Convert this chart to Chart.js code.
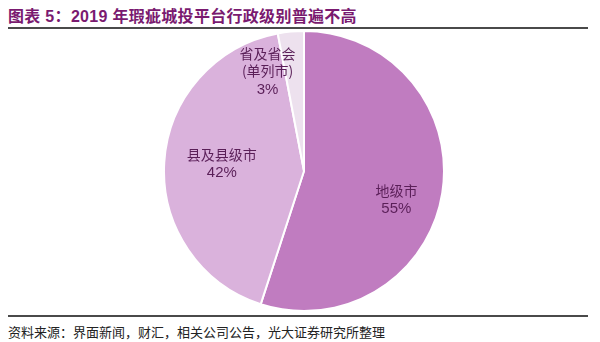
<!DOCTYPE html>
<html>
<head>
<meta charset="utf-8">
<script src="https://cdn.jsdelivr.net/npm/chart.js@4"></script>
<style>
  html, body { margin: 0; padding: 0; background: #fff; }
  body { width: 600px; height: 342px; position: relative; overflow: hidden; }
  #title { position: absolute; left: 8px; top: 3px; font: bold 16px "Liberation Sans", "Noto Sans CJK SC", sans-serif; color: #7a1a70; white-space: nowrap; letter-spacing: 0.3px; }
  #title .cjk { font-family: "Noto Sans CJK SC", sans-serif; }
  .rule { position: absolute; left: 8px; width: 580px; height: 2px; background: #4a4a4a; }
  #source { position: absolute; left: 8px; top: 322px; font: 13px "Noto Sans CJK SC", sans-serif; color: #222; white-space: nowrap; }
  #wrap { position: absolute; left: 163px; top: 30px; width: 282px; height: 282px; }
</style>
</head>
<body>
<div id="title"><span class="cjk">图表</span> 5<span class="cjk">：</span>2019 <span class="cjk">年瑕疵城投平台行政级别普遍不高</span></div>
<div class="rule" style="top:27px"></div>
<div id="wrap"><canvas id="c"></canvas></div>
<div class="rule" style="top:315px"></div>
<div id="source">资料来源：界面新闻，财汇，相关公司公告，光大证券研究所整理</div>
<script>
// admin level of flawed LGFV platforms, 2019 (%)
const labels = ['地级市', '县及县级市', '省及省会\n(单列市)'];
const shares = [55, 42, 3];
const colours = ['#c07cc0', '#dab2dc', '#ede1ee'];

// label placement: [fraction of radius, angle shift in degrees]
const labelPos = [[0.69, 8], [0.59, 2], [0.76, -14.6]];

const sliceLabels = {
  id: 'sliceLabels',
  afterDatasetsDraw(chart) {
    const { ctx } = chart;
    const meta = chart.getDatasetMeta(0);
    meta.data.forEach((arc, i) => {
      const p = arc.getProps(['x', 'y', 'startAngle', 'endAngle', 'outerRadius'], true);
      const a = (p.startAngle + p.endAngle) / 2 + labelPos[i][1] * Math.PI / 180;
      const r = p.outerRadius * labelPos[i][0];
      const x = p.x + Math.cos(a) * r;
      const y = p.y + Math.sin(a) * r;
      const lines = labels[i].split('\n');
      ctx.save();
      ctx.fillStyle = '#5a1f58';
      ctx.textAlign = 'center';
      ctx.textBaseline = 'middle';
      const step = 17.5;
      const top = y - (lines.length * step) / 2;
      ctx.font = '14px "Noto Sans CJK SC", sans-serif';
      lines.forEach((t, k) => ctx.fillText(t, x, top + k * step));
      ctx.font = '15px "Liberation Sans", Arial, sans-serif';
      ctx.fillText(shares[i] + '%', x, top + lines.length * step + 1);
      ctx.restore();
    });
  },
};

new Chart(document.getElementById('c'), {
  type: 'pie',
  data: {
    labels,
    datasets: [{
      data: shares,
      backgroundColor: colours,
      borderColor: '#ffffff',
      borderWidth: 2,
    }],
  },
  options: {
    responsive: true,
    maintainAspectRatio: false,
    animation: false,
    layout: { padding: 0 },
    plugins: { legend: { display: false }, tooltip: { enabled: false } },
  },
  plugins: [sliceLabels],
});
</script>
</body>
</html>
